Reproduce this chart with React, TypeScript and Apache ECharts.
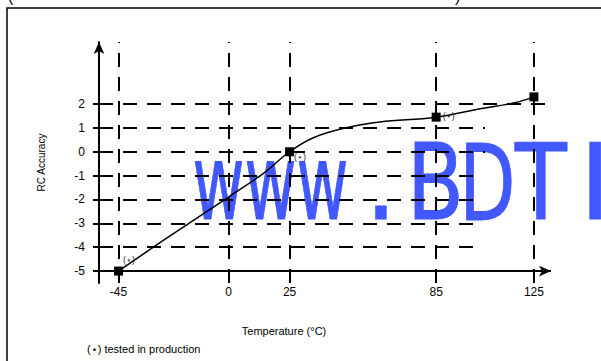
import React, { useEffect, useRef } from "react";
import * as echarts from "echarts";

// Tick labels
const xTicks = [-45, 0, 25, 85, 125];
const yTicks = [-5, -4, -3, -2, -1, 0, 1, 2];

// Measured (marked) points
const testTemps = [-45, 25, 85, 125];
const testAccuracy = [-5, 0, 1.45, 2.3];
const testNote = ["(⋆)", "(⋆)", "(⋆)", ""];

// Curve
const curveTemps = [-45, -25, 0, 15, 25, 35, 50, 62, 85, 103, 117, 125];
const curveAccuracy = [-5, -3.6, -1.9, -0.85, 0, 0.6, 1.05, 1.25, 1.45, 1.8, 2.05, 2.3];

// Grid guide lines
const hGridLevels = [2, 1, 0, -1, -2, -3, -4];
const hGridEnds = [130.4, 105, 105, 104, 104, 104, 104];
const vGridTemps = [-45, 0, 25, 85, 125];

// Watermark glyphs (decoration)
const wmChars = ["w", "w", "w", ".", "B", "D", "T", "I"];
const wmCenters = [218.5, 270.5, 322.5, 381, 435.5, 487.5, 541, 595];
const wmScaleX = [0.6, 0.6, 0.6, 0.95, 0.79, 0.69, 0.8, 1];

const X_MIN = -53;
const X_MAX = 132;
const Y_MIN = -5.5;
const Y_MAX = 4.6;

const FONT = "'Liberation Sans', Arial, Helvetica, sans-serif";

const labelStyles = [
  { position: "right", distance: 0, offset: [0, -11] },
  { position: "right", distance: 0, offset: [0, 5] },
  { position: "right", distance: 2, offset: [0, -1] },
  { position: "right", distance: 0, offset: [0, 0] },
];

export default function App() {
  const ref = useRef<HTMLDivElement>(null);

  useEffect(() => {
    document.body.style.margin = "0";
    if (!ref.current) return;
    const chart = echarts.init(ref.current, null, { renderer: "svg" });
    const dash = { type: [14, 10], color: "#000", width: 2 };

    const markData: any[] = [];
    vGridTemps.forEach((t) => {
      markData.push([
        { coord: [t, Y_MIN], lineStyle: dash },
        { coord: [t, Y_MAX] },
      ]);
    });
    hGridLevels.forEach((v, i) => {
      markData.push([
        { coord: [X_MIN, v], lineStyle: dash },
        { coord: [hGridEnds[i], v] },
      ]);
    });
    markData.push([
      { coord: [X_MIN, -5], symbol: "none", lineStyle: { type: "solid", color: "#000", width: 2 } },
      { coord: [X_MAX, -5], symbol: "arrow", symbolSize: [8, 12] },
    ]);

    const watermark = {
      type: "group",
      z: -10,
      silent: true,
      children: wmChars.map((c, i) => ({
        type: "text",
        x: wmCenters[i],
        y: 182.3,
        scaleX: wmScaleX[i],
        z: -10,
        style: {
          text: c,
          font: "106px 'DejaVu Sans', sans-serif",
          fill: "#4158FF",
          stroke: "#4158FF",
          lineWidth: 1,
          align: "center",
          verticalAlign: "middle",
        },
      })),
    };

    const option: any = {
      animation: false,
      grid: { left: 99, right: 50, top: 42, bottom: 78 },
      xAxis: {
        type: "value",
        min: X_MIN,
        max: X_MAX,
        axisLine: { show: false, onZero: false },
        axisTick: { show: false },
        splitLine: { show: false },
        axisLabel: {
          customValues: xTicks,
          margin: 3,
          fontSize: 12,
          color: "#000",
          fontFamily: FONT,
        },
      },
      yAxis: {
        type: "value",
        min: Y_MIN,
        max: Y_MAX,
        name: "RC Accuracy",
        nameLocation: "middle",
        nameGap: 53,
        nameTextStyle: { fontSize: 10, color: "#000", fontFamily: FONT },
        axisLine: {
          show: true,
          onZero: false,
          symbol: ["none", "arrow"],
          symbolSize: [8, 12],
          lineStyle: { color: "#000", width: 2 },
        },
        axisTick: {
          show: true,
          customValues: yTicks,
          length: 6,
          lineStyle: { color: "#000", width: 2 },
        },
        axisLabel: {
          customValues: yTicks,
          margin: 14,
          fontSize: 12,
          color: "#000",
          fontFamily: FONT,
        },
        splitLine: { show: false },
      },
      graphic: [
        {
          type: "rect",
          x: 7,
          y: 8,
          shape: { x: 0, y: 0, width: 800, height: 500 },
          style: { fill: "none", stroke: "#000", lineWidth: 1.5 },
          silent: true,
          z: -20,
        },
        {
          type: "text",
          x: 8,
          y: -12,
          style: { text: "(", font: `16px ${FONT}`, fill: "#000" },
          silent: true,
        },
        {
          type: "text",
          x: 455,
          y: -12,
          style: { text: ")", font: `16px ${FONT}`, fill: "#000" },
          silent: true,
        },
        watermark,
        {
          type: "text",
          x: 284,
          y: 331,
          style: {
            text: "Temperature (°C)",
            font: `11px ${FONT}`,
            fill: "#000",
            align: "center",
            verticalAlign: "middle",
          },
          silent: true,
        },
        {
          type: "text",
          x: 87,
          y: 349,
          style: {
            text: "(⋆) tested in production",
            font: `11px ${FONT}`,
            fill: "#000",
            verticalAlign: "middle",
          },
          silent: true,
        },
      ],
      series: [
        {
          type: "line",
          data: curveTemps.map((t, i) => [t, curveAccuracy[i]]),
          smooth: 0.4,
          showSymbol: false,
          lineStyle: { color: "#000", width: 1.5 },
          z: 3,
          silent: true,
        },
        {
          type: "scatter",
          symbol: "rect",
          symbolSize: 9,
          itemStyle: { color: "#000", opacity: 1 },
          z: 4,
          silent: true,
          data: testTemps.map((t, i) => ({
            value: [t, testAccuracy[i]],
            label: {
              show: testNote[i] !== "",
              formatter: testNote[i],
              fontSize: 9,
              color: "#333",
              fontFamily: FONT,
              ...labelStyles[i],
            },
          })),
          markLine: {
            silent: true,
            symbol: "none",
            animation: false,
            label: { show: false },
            lineStyle: dash,
            data: markData,
          },
        },
      ],
    };
    chart.setOption(option);
    return () => chart.dispose();
  }, []);

  return <div ref={ref} style={{ width: 601, height: 361 }} />;
}
